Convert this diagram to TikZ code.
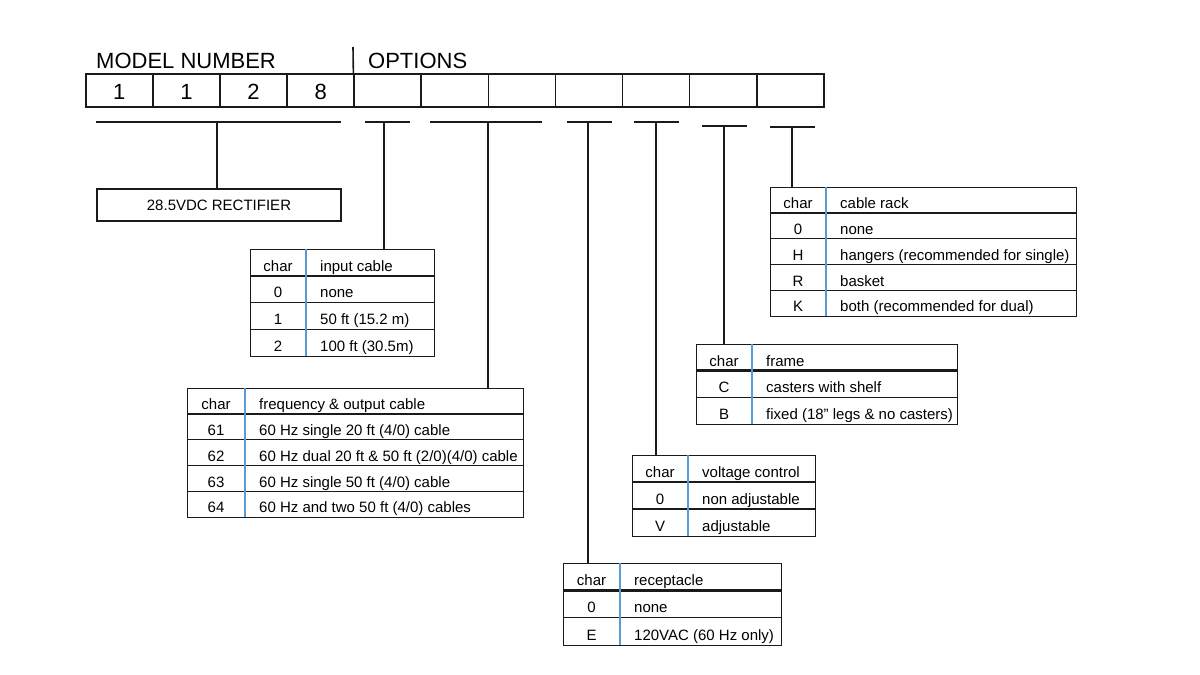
\documentclass[tikz,border=0pt]{standalone}
\usepackage{fontspec}
\setmainfont{Liberation Sans}
\definecolor{lncol}{HTML}{1A1A1A}
\definecolor{divblue}{HTML}{5B9BD5}
\tikzset{
  tabfont/.style={font=\fontsize{15}{18}\selectfont},
  bigfont/.style={font=\fontsize{22}{26}\selectfont},
  tabbox/.style={draw=lncol, line width=1.3pt, inner sep=0pt, anchor=north west},
  rowline/.style={draw=lncol, line width=1.2pt},
  headline/.style={draw=lncol, line width=2.4pt},
  divline/.style={draw=divblue, line width=1.2pt},
  celltxt/.style={tabfont, inner sep=0pt, text height=10.5pt, text depth=0pt},
  brk/.style={draw=lncol, line width=2pt},
  digbox/.style={draw=lncol, line width=1.6pt, minimum width=67.09pt, minimum height=33pt, inner sep=0pt, anchor=north west},
}
% name, left, divider, right, top, bottom, rows (with header), rows list
\newcommand\opttab[8]{%
  \pgfmathsetmacro\rowh{(#6-#5)/#7}
  \node[tabbox, minimum width=#4pt-#2pt, minimum height=#6pt-#5pt] (#1) at (#2,#5) {};
  \foreach \c/\t [count=\i from 0] in {#8}{
    \pgfmathsetmacro\ym{#5+(\i+0.5)*\rowh+3.5}
    \node[celltxt] (#1-c\i) at ({(#2+#3)/2},\ym) {\c};
    \node[celltxt, anchor=west] (#1-t\i) at (#3+14,\ym) {\t};
    \ifnum\i>1 \draw[rowline] (#2,{#5+\i*\rowh}) -- (#4,{#5+\i*\rowh}); \fi
  }
  \draw[headline] (#2,{#5+\rowh}) -- (#4,{#5+\rowh});
  \draw[divline] (#3,#5) -- (#3,#6);
}
\begin{document}
\begin{tikzpicture}[x=1pt,y=-1pt]
  \useasboundingbox (0,0) rectangle (1200,675);
  % model number and options boxes
  \node[bigfont, anchor=base west, inner sep=0pt] (mn) at (96,68) {MODEL NUMBER};
  \node[bigfont, anchor=base west, inner sep=0pt] (op) at (368,68) {OPTIONS};
  \foreach \i in {1,...,11}
    \node[digbox] (m\i) at ({85+(\i-1)*67.09},73) {};
  \foreach \d [count=\i] in {1,1,2,8}
    \node[bigfont, inner sep=0pt] (d\i) at ([yshift=-2pt]m\i.center) {\d};
  \coordinate (dv) at (353,47);
  \draw[draw=lncol, line width=1.6pt] (dv) -- (m5.north west);
  % model bracket
  \node[draw=lncol, line width=1.6pt, minimum width=244pt, minimum height=32pt,
    inner sep=0pt, tabfont] (rect) at (219,205) {28.5VDC RECTIFIER};
  \path
  (96,122) coordinate (ml)
  (341,122) coordinate (mr)
  (217,122) coordinate (ms);
  \draw[brk] (ml) -- (mr);
  \draw[brk] (ms) -- (ms |- rect.north);
  % option tables
  \opttab{inp}{250}{306}{434}{249}{356}{4}{char/input cable, 0/none, 1/{50 ft (15.2 m)}, 2/{100 ft (30.5m)}}
  \opttab{freq}{187}{245}{523}{388}{517}{5}{char/frequency \& output cable, 61/{60 Hz single 20 ft (4/0) cable}, 62/{60 Hz dual 20 ft \& 50 ft (2/0)(4/0) cable}, 63/{60 Hz single 50 ft (4/0) cable}, 64/{60 Hz and two 50 ft (4/0) cables}}
  \opttab{recp}{563}{620}{781}{563}{645}{3}{char/receptacle, 0/none, E/{120VAC (60 Hz only)}}
  \opttab{volt}{632}{688}{815}{455}{536}{3}{char/voltage control, 0/non adjustable, V/adjustable}
  \opttab{frame}{696}{752}{957}{344}{424}{3}{char/frame, C/casters with shelf, B/{fixed (18” legs \& no casters)}}
  \opttab{rack}{770}{826}{1076}{187}{316}{5}{char/cable rack, 0/none, H/{hangers (recommended for single)}, R/basket, K/{both (recommended for dual)}}
  % option brackets
  \foreach \l/\r/\s/\y/\tb [count=\i] in {365/410/384/122/inp, 430/542/488/122/freq,
      567/612/588/122/recp, 634/679/656/122/volt, 702/747/724/126/frame, 770/815/792/127/rack}{
    \path
    (\l,\y) coordinate (bl\i)
    (\r,\y) coordinate (br\i)
    (\s,\y) coordinate (bs\i);
    \draw[brk] (bl\i) -- (br\i);
    \draw[brk] (bs\i) -- (bs\i |- \tb.north);
  }
\end{tikzpicture}
\end{document}
